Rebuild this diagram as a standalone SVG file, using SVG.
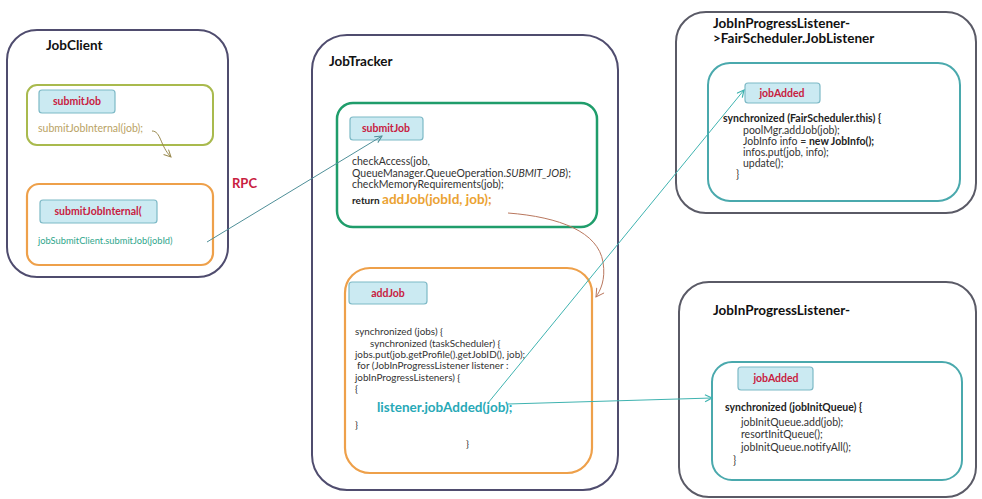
<svg xmlns="http://www.w3.org/2000/svg" width="982" height="499" viewBox="0 0 982 499">
  <defs>
    <style>
      text { font-family: Lato, "Open Sans", "Liberation Sans", sans-serif; }
      .outer { fill: #ffffff; stroke: #4f4c6e; stroke-width: 2; }
      .outer-gray { fill: #ffffff; stroke: #5a5a66; stroke-width: 2; }
      .title { font-size: 13.5px; font-weight: bold; fill: #111111; }
      .box-olive { fill: #ffffff; stroke: #a9ba4e; stroke-width: 2; }
      .box-orange { fill: #ffffff; stroke: #eea04a; stroke-width: 2.2; }
      .box-green { fill: #ffffff; stroke: #1f9d6b; stroke-width: 2.5; }
      .box-teal { fill: #ffffff; stroke: #4aa9ad; stroke-width: 2; }
      .tag { fill: #cbeaf2; stroke: #7db9c6; stroke-width: 1.2; }
      .tag-text { font-size: 10.5px; font-weight: bold; fill: #c8203f; text-anchor: middle; }
      .code { font-size: 10.5px; fill: #333333; }
      .code-s { font-size: 9.9px; fill: #333333; }
      .code-b { font-size: 10.5px; font-weight: bold; fill: #222222; }
      .conn { fill: none; stroke-width: 1; }
    </style>
    <marker id="arrow-olive" markerWidth="10" markerHeight="10" refX="8" refY="4" orient="auto" markerUnits="userSpaceOnUse">
      <path d="M1,0.5 L8,4 L1,7.5" fill="none" stroke="#9a8a50" stroke-width="1"/>
    </marker>
    <marker id="arrow-slate" markerWidth="10" markerHeight="10" refX="8" refY="4" orient="auto" markerUnits="userSpaceOnUse">
      <path d="M1,0.5 L8,4 L1,7.5" fill="none" stroke="#4f8f98" stroke-width="1"/>
    </marker>
    <marker id="arrow-brown" markerWidth="12" markerHeight="12" refX="9" refY="5" orient="auto" markerUnits="userSpaceOnUse">
      <path d="M1,0.5 L9,5 L1,9.5" fill="none" stroke="#b9775e" stroke-width="1"/>
    </marker>
    <marker id="arrow-teal" markerWidth="10" markerHeight="10" refX="8" refY="4" orient="auto" markerUnits="userSpaceOnUse">
      <path d="M1,0.5 L8,4 L1,7.5" fill="none" stroke="#3fb3b0" stroke-width="1.2"/>
    </marker>
  </defs>

  <rect width="982" height="499" fill="#ffffff"/>

  <!-- JobClient container -->
  <g id="jobclient">
    <rect class="outer" x="7" y="30" width="221" height="247" rx="30"/>
    <text class="title" x="46" y="50">JobClient</text>
  </g>

  <g id="jobclient-submitjob">
    <rect class="box-olive" x="27" y="85" width="186" height="60" rx="10"/>
    <rect class="tag" x="39" y="90" width="76" height="23" rx="3"/>
    <text class="tag-text" x="77" y="105">submitJob</text>
    <text x="38" y="132" font-size="10.5" style="fill:#b9a264">submitJobInternal(job);</text>
  </g>

  <g id="jobclient-submitjobinternal">
    <rect class="box-orange" x="27" y="184" width="186" height="81" rx="12"/>
    <rect class="tag" x="40" y="200" width="117" height="23" rx="3"/>
    <text class="tag-text" x="98" y="215">submitJobInternal(</text>
    <text x="38" y="244" font-size="9.3" style="fill:#2fa68c">jobSubmitClient.submitJob(jobId)</text>
  </g>

  <!-- JobTracker container -->
  <g id="jobtracker">
    <rect class="outer" x="312" y="35" width="306" height="455" rx="35"/>
    <text class="title" x="329" y="66">JobTracker</text>
  </g>

  <g id="jobtracker-submitjob">
    <rect class="box-green" x="337" y="103" width="260" height="124" rx="16"/>
    <rect class="tag" x="350" y="117" width="73" height="23" rx="3"/>
    <text class="tag-text" x="386" y="132">submitJob</text>
    <text class="code" x="352" y="165">checkAccess(job,</text>
    <text class="code" x="352" y="177">QueueManager.QueueOperation.<tspan font-style="italic">SUBMIT_JOB</tspan>);</text>
    <text class="code" x="352" y="188">checkMemoryRequirements(job);</text>
    <text x="352" y="204" font-size="10" font-weight="bold" fill="#222222">return <tspan font-size="13.5" fill="#eba232">addJob(jobId, job);</tspan></text>
  </g>

  <g id="jobtracker-addjob">
    <rect class="box-orange" x="345" y="268" width="247" height="205" rx="25"/>
    <rect class="tag" x="349" y="282" width="78" height="22" rx="3"/>
    <text class="tag-text" x="388" y="297">addJob</text>
    <text class="code-s" x="355" y="335">synchronized (jobs) {</text>
    <text class="code-s" x="370" y="347">synchronized (taskScheduler) {</text>
    <text class="code-s" x="355" y="358">jobs.put(job.getProfile().getJobID(), job);</text>
    <text class="code-s" x="357" y="369">for (JobInProgressListener listener :</text>
    <text class="code-s" x="355" y="381">jobInProgressListeners) {</text>
    <text class="code-s" x="355" y="392">{</text>
    <text x="377" y="412" font-size="13.5" font-weight="bold" fill="#27a9b7">listener.jobAdded(job);</text>
    <text class="code-s" x="355" y="428">}</text>
    <text class="code-s" x="466" y="447">}</text>
  </g>

  <!-- FairScheduler listener container -->
  <g id="fairscheduler-listener">
    <rect class="outer-gray" x="676" y="12" width="300" height="201" rx="30"/>
    <text class="title" x="713" y="28">JobInProgressListener-</text>
    <text class="title" x="713" y="43">&gt;FairScheduler.JobListener</text>
  </g>

  <g id="fairscheduler-jobadded">
    <rect class="box-teal" x="708" y="63" width="252" height="138" rx="22"/>
    <rect class="tag" x="745" y="83" width="75" height="20" rx="3"/>
    <text class="tag-text" x="782" y="97">jobAdded</text>
    <text class="code-b" x="723" y="122">synchronized (FairScheduler.this) {</text>
    <text class="code" x="743" y="134">poolMgr.addJob(job);</text>
    <text class="code" x="743" y="145">JobInfo info = <tspan font-weight="bold" fill="#222222">new JobInfo();</tspan></text>
    <text class="code" x="743" y="156">infos.put(job, info);</text>
    <text class="code" x="743" y="167">update();</text>
    <text class="code" x="736" y="178">}</text>
  </g>

  <!-- Second listener container -->
  <g id="initqueue-listener">
    <rect class="outer-gray" x="679" y="282" width="297" height="215" rx="30"/>
    <text class="title" x="713" y="315">JobInProgressListener-</text>
  </g>

  <g id="initqueue-jobadded">
    <rect class="box-teal" x="712" y="362" width="250" height="118" rx="20"/>
    <rect class="tag" x="738" y="367" width="75" height="23" rx="3"/>
    <text class="tag-text" x="776" y="382">jobAdded</text>
    <text class="code-b" x="725" y="411">synchronized (jobInitQueue) {</text>
    <text class="code" x="741" y="426">jobInitQueue.add(job);</text>
    <text class="code" x="741" y="438">resortInitQueue();</text>
    <text class="code" x="741" y="451">jobInitQueue.notifyAll();</text>
    <text class="code" x="733" y="464">}</text>
  </g>

  <!-- Call connectors -->
  <g id="connectors">
    <path class="conn" d="M152,131 C161,131 160,146 171,157" stroke="#9a8a50" marker-end="url(#arrow-olive)"/>
    <path class="conn" d="M207,242 L382,136" stroke="#4f8f98" marker-end="url(#arrow-slate)"/>
    <text x="232" y="188" font-size="13" font-weight="bold" fill="#c8203f">RPC</text>
    <path class="conn" d="M508,213 C560,217 598,232 603,262 C606,280 600,291 596,297" stroke="#b9775e" marker-end="url(#arrow-brown)"/>
    <path class="conn" d="M488,403 L744,90" stroke="#3fb3b0" marker-end="url(#arrow-teal)"/>
    <path class="conn" d="M508,404 L712,398" stroke="#3fb3b0" stroke-width="1.3" marker-end="url(#arrow-teal)"/>
  </g>
</svg>
